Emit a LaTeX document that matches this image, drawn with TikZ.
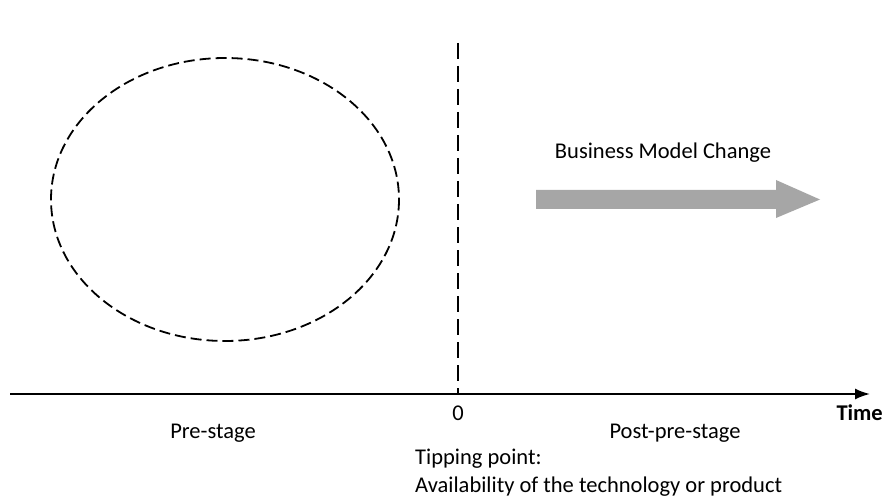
\documentclass[tikz,border=0pt]{standalone}
\usepackage{fontspec}
\setmainfont{Carlito}
\usetikzlibrary{arrows.meta}
\tikzset{
  lbl/.style={anchor=base,inner sep=0pt,font=\fontsize{22.5}{28}\selectfont},
  dashline/.style={line width=1.8pt,dash pattern=on 16pt off 7pt},
  dashring/.style={line width=1.8pt,dash pattern=on 11pt off 5pt},
}
\begin{document}
\begin{tikzpicture}[x=1pt,y=-1pt]
     		\useasboundingbox (0,0) rectangle (883,497);
     		% time axis and tipping point
     		\coordinate (axisL) at (10,394);
     		\coordinate (axisR) at (870,394);
     		\coordinate (tipTop) at (458,43);
     		\coordinate (tipBot) at (458,394);
     		\draw[-{Latex[length=15pt,width=11pt]},line width=1.8pt] (axisL)--(axisR);
     		\draw[dashline] (tipTop)--(tipBot);
     		% pre-stage ellipse
     		\draw[dashring] (225,199.5) ellipse [x radius=174, y radius=141.5];
     		% business model change arrow
     		\fill[color=gray!70] (536,190)--(776,190)--(776,180)--(820,199.5)--(776,218)--(776,209)--(536,209)--cycle;
     		\node[lbl] (bmc) at (663,159) {Business Model Change};
     		\node[lbl] (zero) at (458,420) {0};
     		\node[lbl,anchor=base east,font=\fontsize{22.5}{28}\selectfont\bfseries] (time) at (883,420) {Time};
     		\node[lbl] (pre) at (213,438) {Pre-stage};
     		\node[lbl] (post) at (675,438) {Post-pre-stage};
     		\node[lbl,anchor=base west] (tip) at (415,464) {Tipping point:};
     		\node[lbl,anchor=base west] (avail) at (415,492) {Availability of the technology or product};
\end{tikzpicture}
\end{document}
